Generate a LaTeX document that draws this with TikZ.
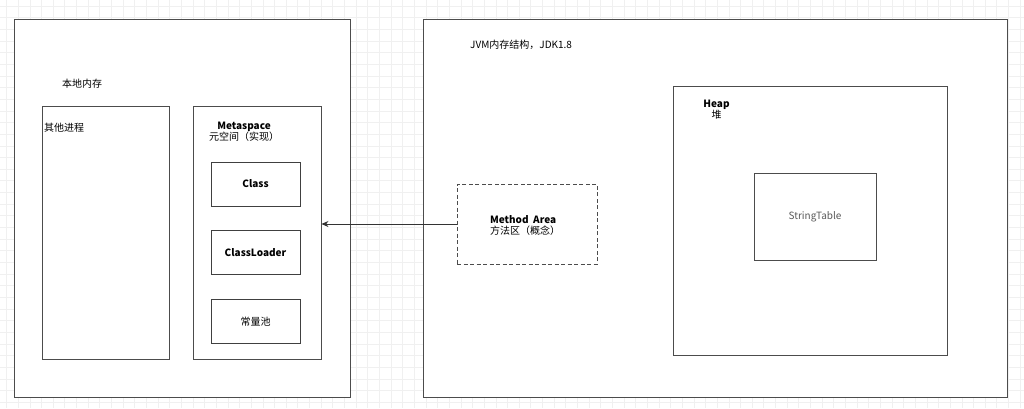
\documentclass[tikz,border=0pt]{standalone}
\usepackage{fontspec}
\setmainfont{Noto Sans CJK SC}
\usepackage{tikz}
\usetikzlibrary{arrows.meta,positioning}

\begin{document}
\begin{tikzpicture}[
    x=1pt, y=-1pt,
    box/.style={rectangle, draw=black!70, line width=0.9pt, fill=white, minimum width=#1, inner sep=0pt},
    inner/.style={rectangle, draw=black!75, line width=0.8pt, fill=white, minimum width=89pt, minimum height=44pt, font=\fontsize{10}{12}\selectfont\bfseries},
    tag/.style={font=\fontsize{10}{12}\selectfont, inner sep=0pt, align=center},
    gridline/.style={black!6, line width=0.6pt},
    >={Stealth[length=7pt,width=6pt]}
]
    \useasboundingbox (0,0) rectangle (1024,408);
    % background grid
    \fill[white] (0,0) rectangle (1024,408);
    \foreach \gx in {0,...,87} \draw[gridline] ({6.5+11.65*\gx},0) -- ({6.5+11.65*\gx},408);
    \foreach \gy in {0,...,34} \draw[gridline] (0,{6+11.65*\gy}) -- (1024,{6+11.65*\gy});

    % native memory
    \node[box=336pt, minimum height=378pt] (native) at (182, 208) {};
    \node[tag, anchor=west] (nativelbl) at (62, 84) {本地内存};
    \node[box=127pt, minimum height=253pt] (other) at (105.5, 232.5) {};
    \node[tag, anchor=west] (otherlbl) at (44, 128) {其他进程};
    \node[box=128pt, minimum height=253pt] (meta) at (257, 232.5) {};
    \node[tag] (metalbl) at (244, 132) {\textbf{Metaspace}\\[-1pt]元空间（实现）};
    \node[inner] (cls) at (255.5, 184) {Class};
    \node[inner] (loader) at (255.5, 252.5) {ClassLoader};
    \node[inner, font=\fontsize{10}{12}\selectfont] (pool) at (255.5, 321.5) {常量池};

    % jvm memory
    \node[box=584pt, minimum height=378pt] (jvm) at (715, 208) {};
    \node[tag, anchor=west] (jvmlbl) at (470, 45) {JVM内存结构，JDK1.8};
    \node[box=140pt, minimum height=80pt, dashed, dash pattern=on 4pt off 2.5pt] (area) at (527, 224) {};
    \node[tag, align=left] (arealbl) at (525, 225) {\textbf{Method~~Area}\\[-1pt]方法区（概念）};
    \node[box=274pt, minimum height=269pt] (heap) at (810, 220.5) {};
    \node[tag] (heaplbl) at (716.5, 110) {\textbf{Heap}\\[-1pt]堆};
    \node[box=122pt, minimum height=87pt, text=black!65, font=\fontsize{10}{12}\selectfont] (strtab) at (815, 216.5) {StringTable};

    \draw[->, black!80, line width=0.8pt] (area.west) -- (area.west -| meta.east);
\end{tikzpicture}
\end{document}
